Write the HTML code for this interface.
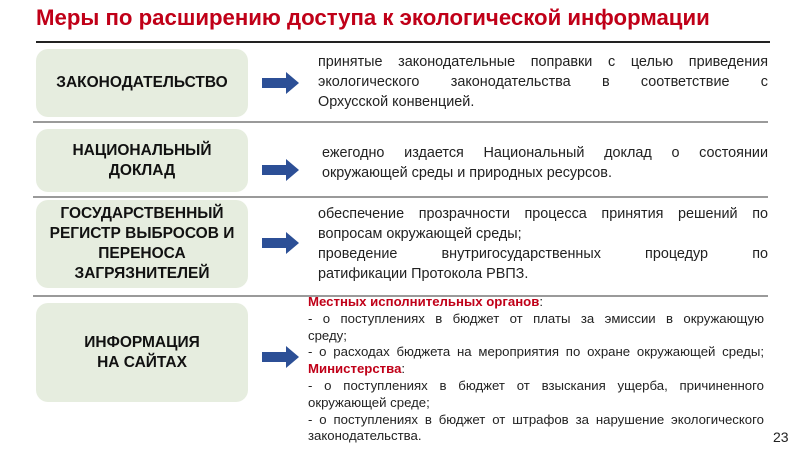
<!DOCTYPE html>
<html><head><meta charset="utf-8"><style>
body{margin:0;width:800px;height:450px;background:#fff;position:relative;overflow:hidden;font-family:"Liberation Sans","DejaVu Sans",sans-serif;}
.a{position:absolute}
.t{left:36px;top:5px;font-size:22.2px;font-weight:bold;color:#c00018;white-space:nowrap}
.hl{left:36px;width:734px;height:2px;background:#222;top:41px}
.sep{left:33px;width:735px;height:2px;background:#9a9a9a}
.box{left:36px;width:212px;background:#e6eddf;border-radius:12px;display:flex;align-items:center;justify-content:center;text-align:center;font-weight:bold;font-size:15.5px;color:#111;line-height:20px}
.arr{left:262px;width:38px;height:22px}
.tx{left:318px;width:450px;font-size:14.4px;color:#222;line-height:20px}
.tx div{white-space:nowrap}
.tx .j{text-align:justify;text-align-last:justify;white-space:normal}
.sm{font-size:13.2px;line-height:16.8px;left:308px;width:456px}
.r{color:#c00018;font-weight:bold}
</style></head><body>
<div class="a t">Меры по расширению доступа к экологической информации</div>
<div class="a hl"></div>
<div class="a box" style="top:49px;height:68px">ЗАКОНОДАТЕЛЬСТВО</div>
<div class="a sep" style="top:121px"></div>
<div class="a box" style="top:129px;height:63px">НАЦИОНАЛЬНЫЙ<br>ДОКЛАД</div>
<div class="a sep" style="top:196px"></div>
<div class="a box" style="top:200px;height:88px">ГОСУДАРСТВЕННЫЙ<br>РЕГИСТР ВЫБРОСОВ И<br>ПЕРЕНОСА<br>ЗАГРЯЗНИТЕЛЕЙ</div>
<div class="a sep" style="top:295px"></div>
<div class="a box" style="top:303px;height:99px">ИНФОРМАЦИЯ<br>НА САЙТАХ</div>

<svg class="a arr" style="top:72px" viewBox="0 0 38 22"><polygon points="0,6 24,6 24,0 37,11 24,22 24,16 0,16" fill="#2c4f96"/></svg>
<svg class="a arr" style="top:159px" viewBox="0 0 38 22"><polygon points="0,6 24,6 24,0 37,11 24,22 24,16 0,16" fill="#2c4f96"/></svg>
<svg class="a arr" style="top:232px" viewBox="0 0 38 22"><polygon points="0,6 24,6 24,0 37,11 24,22 24,16 0,16" fill="#2c4f96"/></svg>
<svg class="a arr" style="top:346px" viewBox="0 0 38 22"><polygon points="0,6 24,6 24,0 37,11 24,22 24,16 0,16" fill="#2c4f96"/></svg>

<div class="a tx" style="top:52px">
<div class="j">принятые законодательные поправки с целью приведения</div>
<div class="j">экологического законодательства в соответствие с</div>
<div>Орхусской конвенцией.</div>
</div>
<div class="a tx" style="top:143px;left:322px;width:446px">
<div class="j">ежегодно издается Национальный доклад о состоянии</div>
<div>окружающей среды и природных ресурсов.</div>
</div>
<div class="a tx" style="top:204px">
<div class="j">обеспечение прозрачности процесса принятия решений по</div>
<div>вопросам окружающей среды;</div>
<div class="j">проведение внутригосударственных процедур по</div>
<div>ратификации Протокола РВПЗ.</div>
</div>
<div class="a tx sm" style="top:294px">
<div><span class="r">Местных исполнительных органов</span>:</div>
<div class="j">- о поступлениях в бюджет от платы за эмиссии в окружающую</div>
<div>среду;</div>
<div class="j">- о расходах бюджета на мероприятия по охране окружающей среды;</div>
<div><span class="r">Министерства</span>:</div>
<div class="j">- о поступлениях в бюджет от взыскания ущерба, причиненного</div>
<div>окружающей среде;</div>
<div class="j">- о поступлениях в бюджет от штрафов за нарушение экологического</div>
<div>законодательства.</div>
</div>
<div class="a" style="left:773px;top:429px;font-size:14px;color:#222">23</div>
</body></html>
